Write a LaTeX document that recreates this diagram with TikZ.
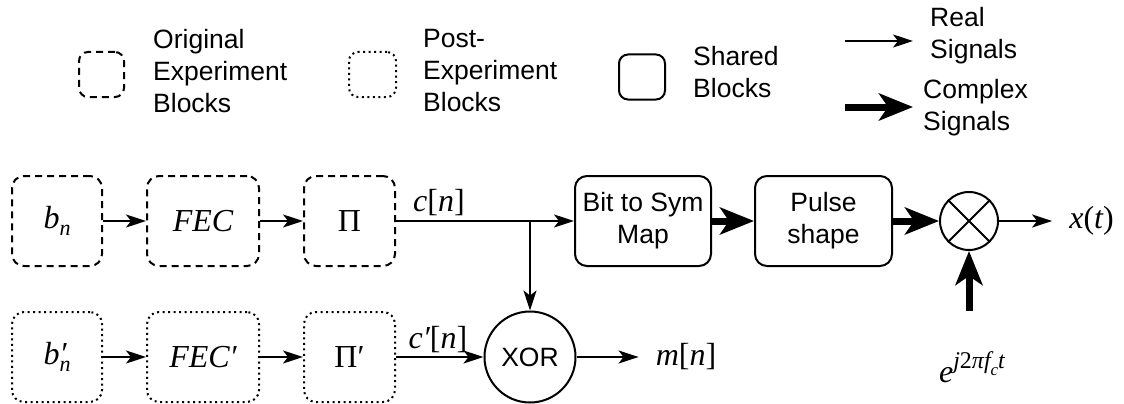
\documentclass[tikz,border=0pt]{standalone}
\usepackage{fontspec}
\setmainfont{Liberation Sans}
\newfontfamily\tms{Liberation Serif}
\usetikzlibrary{arrows.meta,positioning}

\newcommand\lgdfont{\fontsize{26.5}{32}\selectfont}
\newcommand\sigfont{\fontsize{32}{38}\tms\itshape}
\newcommand\lo[1]{\raisebox{-0.22em}{\fontsize{22}{26}\selectfont #1}}
\newcommand\hi[1]{\raisebox{0.42em}{\fontsize{24}{28}\selectfont #1}}
\newcommand\up[1]{{\upshape #1}}

\tikzset{
  blk/.style={draw, line width=2pt, rounded corners=12pt, minimum width=#1,
    minimum height=90pt, inner sep=0pt, font=\sigfont, align=center},
  orig/.style={blk=#1, dash pattern=on 7pt off 5pt},
  post/.style={blk=#1, dash pattern=on 2pt off 3.5pt},
  shared/.style={blk=#1, font=\lgdfont},
  lgbox/.style={minimum height=45pt, rounded corners=9pt},
  real/.style={-{Stealth[length=20pt,width=13pt,inset=5pt]}, line width=2pt},
  cplx/.style={-{Stealth[length=34pt,width=27pt,inset=9pt]}, line width=7pt},
  lgd/.style={anchor=west, align=left, inner sep=0pt, font=\lgdfont},
  sig/.style={inner xsep=17pt, inner ysep=0pt, font=\sigfont},
}

\begin{document}
\begin{tikzpicture}[x=1pt, y=-1pt]
  \useasboundingbox (0,0) rectangle (1124,404);

  % legend
  \node[orig=45pt, lgbox] (lgorig) at (101.5,74.5) {};
  \node[lgd] (lgorigtxt) at (153,71) {Original\\Experiment\\Blocks};
  \node[post=47pt, lgbox] (lgpost) at (372.5,74.5) {};
  \node[lgd] (lgposttxt) at (423,71) {Post-\\Experiment\\Blocks};
  \node[shared=46pt, lgbox] (lgshared) at (642,77) {};
  \node[lgd] (lgsharedtxt) at (693,72) {Shared\\Blocks};
  \coordinate (lgrealA) at (845,41);
  \coordinate (lgrealB) at (913,41);
  \coordinate (lgcplxA) at (845,107);
  \coordinate (lgcplxB) at (913,107);
  \draw[real] (lgrealA) -- (lgrealB);
  \draw[cplx] (lgcplxA) -- (lgcplxB);
  \node[lgd] (lgrealtxt) at (930,36) {Real\\Signals};
  \node[lgd] (lgcplxtxt) at (923,108) {Complex\\Signals};

  % original chain
  \node[orig=90pt] (bn) at (57,221) {b\lo{n}};
  \node[orig=112pt] (fec) at (203,221) {FEC};
  \node[orig=91pt] (pi) at (349.5,221) {\up{Π}};

  % post-experiment chain
  \node[post=90pt] (bnp) at (57,357) {b\rlap{′}\lo{n}};
  \node[post=112pt] (fecp) at (203,357) {FEC′};
  \node[post=91pt] (pip) at (349.5,357) {\up{Π′}};

  % shared blocks
  \node[draw, circle, line width=2pt, minimum size=91pt, inner sep=0pt,
    font=\lgdfont] (xor) at (530,357) {XOR};
  \node[shared=136pt] (bits) at (643,221) {Bit to Sym\\Map};
  \node[shared=137pt] (pulse) at (823.5,221) {Pulse\\shape};
  \node[draw, circle, line width=2pt, minimum size=58pt, inner sep=0pt]
    (mix) at (969,221) {};
  \draw[line width=2pt] (mix.north west) -- (mix.south east)
    (mix.north east) -- (mix.south west);

  % signals
  \node[sig] (xt) at (1091.5,221) {x\up{(}t\up{)}};
  \node[sig] (mn) at (686,357) {m\up{[}n\up{]}};
  \node[font=\sigfont] (cn) at (439,203) {c\up{[}n\up{]}};
  \node[font=\sigfont] (cnp) at (438,340) {c′\up{[}n\up{]}};
  \node[font=\sigfont, anchor=base] (carrier) at (972,382)
    {e\hi{j\up{2}πf\raisebox{-0.3em}{\fontsize{17}{20}\selectfont c}t}};
  \coordinate (jn) at (xor.north |- pi.east);
  \coordinate (osc) at (969,311);

  \draw[real] (bn) -- (fec);
  \draw[real] (fec) -- (pi);
  \draw[real] (pi) -- (bits);
  \draw[real] (jn) -- (xor);
  \draw[real] (bnp) -- (fecp);
  \draw[real] (fecp) -- (pip);
  \draw[real] (pip) -- (xor);
  \draw[real] (xor) -- (mn);
  \draw[cplx] (bits) -- (pulse);
  \draw[cplx] (pulse) -- (mix);
  \draw[cplx] (osc) -- (mix);
  \draw[real] (mix) -- (xt);
\end{tikzpicture}
\end{document}
